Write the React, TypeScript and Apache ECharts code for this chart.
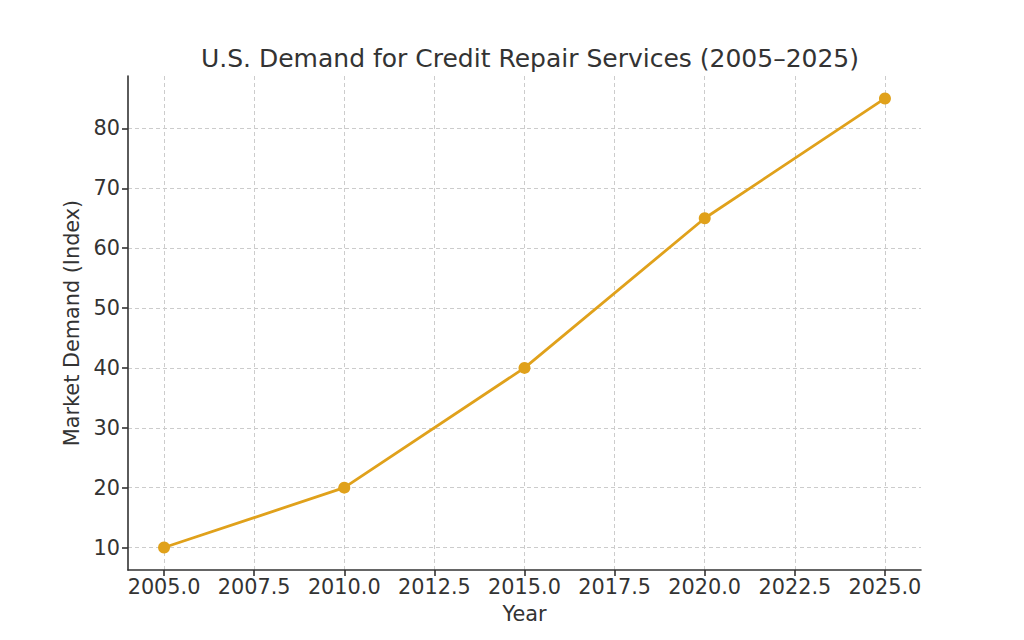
import React, { useEffect, useRef } from "react";
import * as echarts from "echarts";

const years = [2005, 2010, 2015, 2020, 2025];
const demand = [10, 20, 40, 65, 85];
const xTicks = [2005, 2007.5, 2010, 2012.5, 2015, 2017.5, 2020, 2022.5, 2025];
const yTicks = [10, 20, 30, 40, 50, 60, 70, 80];

const FONT = "DejaVu Sans";
const LINE_COLOR = "#E0A11B";
const TEXT = "#333333";

export default function App() {
  const ref = useRef<HTMLDivElement>(null);
  useEffect(() => {
    if (!ref.current) return;
    const chart = echarts.init(ref.current, undefined, { renderer: "svg" });
    chart.setOption({
      animation: false,
      backgroundColor: "#ffffff",
      title: {
        text: "U.S. Demand for Credit Repair Services (2005–2025)",
        left: 525,
        textAlign: "center",
        top: 41,
        textStyle: { fontFamily: FONT, fontSize: 25, fontWeight: "normal", color: TEXT },
      },
      grid: { left: 128, right: 103, top: 76, bottom: 70, containLabel: false },
      xAxis: {
        type: "value",
        min: 2004,
        max: 2026,
        name: "Year",
        nameLocation: "middle",
        nameGap: 33,
        nameTextStyle: { fontFamily: FONT, fontSize: 20.8, color: TEXT },
        axisLine: { show: true, onZero: false, lineStyle: { color: TEXT, width: 1.6 } },
        axisTick: { show: true, customValues: xTicks, length: 6, inside: false, lineStyle: { color: TEXT, width: 1.6 } },
        axisLabel: {
          customValues: xTicks,
          formatter: (v: number) => v.toFixed(1),
          fontFamily: FONT,
          fontSize: 20.8,
          color: TEXT,
          margin: 6,
        },
        splitLine: { show: true, lineStyle: { color: "#cccccc", type: [4, 3], width: 1 } },
      },
      yAxis: {
        type: "value",
        min: 6.25,
        max: 88.75,
        name: "Market Demand (Index)",
        nameLocation: "middle",
        nameGap: 40,
        nameTextStyle: { fontFamily: FONT, fontSize: 20.8, color: TEXT },
        axisLine: { show: true, onZero: false, lineStyle: { color: TEXT, width: 1.6 } },
        axisTick: { show: true, customValues: yTicks, length: 6, inside: false, lineStyle: { color: TEXT, width: 1.6 } },
        axisLabel: {
          customValues: yTicks,
          fontFamily: FONT,
          fontSize: 20.8,
          color: TEXT,
          margin: 8,
        },
        splitLine: { show: true, lineStyle: { color: "#cccccc", type: [4, 3], width: 1 } },
      },
      series: [
        {
          type: "line",
          data: years.map((y, i) => [y, demand[i]]),
          lineStyle: { color: LINE_COLOR, width: 2.8 },
          itemStyle: { color: LINE_COLOR },
          symbol: "circle",
          symbolSize: 12,
          z: 5,
        },
      ],
    });
    return () => chart.dispose();
  }, []);
  return <div ref={ref} style={{ width: 1024, height: 640, position: "absolute", left: 0, top: 0 }} />;
}
